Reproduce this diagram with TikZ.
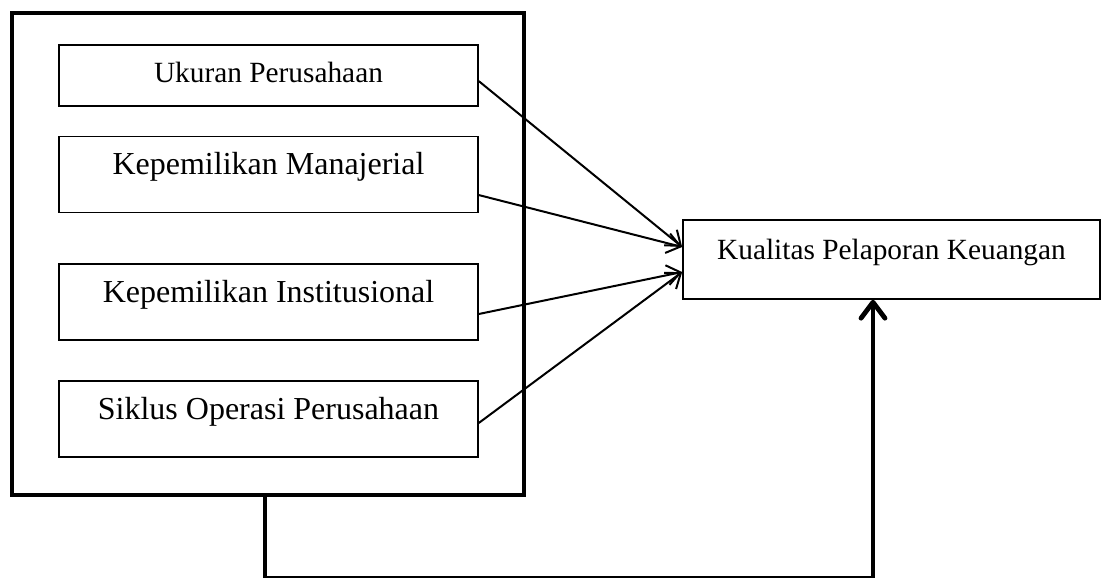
\documentclass[tikz,border=0pt]{standalone}
\usepackage{fontspec}
\setmainfont{Liberation Serif}
\usetikzlibrary{arrows.meta}

\begin{document}
\begin{tikzpicture}[x=0.375pt,y=-0.375pt,
  frame/.style={draw,line width=0.6pt,minimum width=157.1pt,inner sep=0pt},
  var/.style={frame,minimum height=28.6pt,text height=0pt,text depth=0pt,font=\fontsize{12}{14}\selectfont},
  link/.style={line width=0.75pt,-{Straight Barb[length=5pt,width=7.5pt]}}]
  \useasboundingbox (0,0) rectangle (1102,577);
  % kotak variabel independen
  \node[draw,line width=1.8pt,minimum width=192pt,minimum height=180.75pt] (grp) at (268,254) {};
  \node[frame,minimum height=22.9pt,text depth=0.25em,font=\fontsize{11}{13}\selectfont] (ukuran) at (268.5,75.5) {Ukuran Perusahaan};
  \node[var] (manajerial) at (268.5,174.5) {Kepemilikan Manajerial};
  \node[var] (institusi) at (268.5,302) {Kepemilikan Institusional};
  \node[var] (siklus) at (268.5,419) {Siklus Operasi Perusahaan};
  % variabel dependen
  \node[var,minimum width=156.4pt,minimum height=29.6pt,font=\fontsize{11}{13}\selectfont] (kualitas) at (891.5,259.5) {Kualitas Pelaporan Keuangan};
  \draw[link] ([yshift=-2.1pt]ukuran.east) -- ([yshift=4.7pt]kualitas.west);
  \draw[link] ([yshift=-7.7pt]manajerial.east) -- ([yshift=4.7pt]kualitas.west);
  \draw[link] ([yshift=-4.5pt]institusi.east) -- ([yshift=-4.7pt]kualitas.west);
  \draw[link] ([yshift=-1.5pt]siklus.east) -- ([yshift=-4.7pt]kualitas.west);
  % pengaruh simultan
  \coordinate (kiri) at (265,578.2);
  \coordinate (kanan) at (873,578.2);
  \draw[line width=1.8pt,-{Straight Barb[length=6pt,width=9pt,round]}] (grp.south -| kiri) -- (kiri) -- (kanan) -- (kanan |- kualitas.south);
\end{tikzpicture}
\end{document}
